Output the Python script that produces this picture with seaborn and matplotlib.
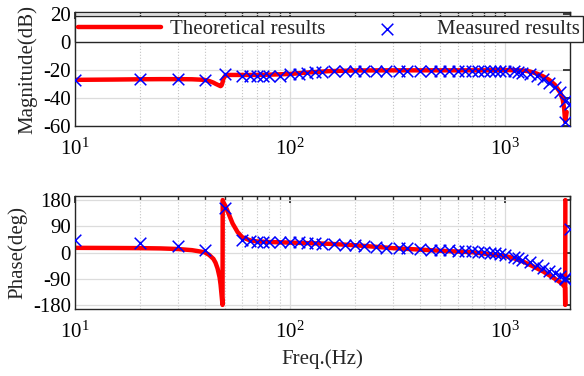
"""
Bode plot: theoretical vs measured frequency response (magnitude and phase).
"""

import matplotlib
matplotlib.use("Agg")
import matplotlib.pyplot as plt
import matplotlib.ticker as mticker
import pandas as pd
import seaborn as sns

# Theoretical magnitude curve
THEO_MAG_FREQ = [10, 15, 20, 25, 30, 35, 40, 42, 44, 45, 46, 47, 47.5, 48, 48.5,
                 49, 50, 52, 55, 60, 70, 80, 100, 120, 150, 200, 300, 500, 800,
                 1000, 1200, 1300, 1400, 1500, 1600, 1700, 1800, 1850, 1880,
                 1900, 1930]
THEO_MAG_DB = [-27.0, -26.8, -26.6, -26.5, -26.5, -26.6, -27.0, -27.8, -29.0,
               -29.8, -30.5, -31.2, -31.5, -31.0, -29.0, -26.0, -24.0, -23.5,
               -23.5, -23.5, -23.5, -23.3, -22.8, -21.8, -20.8, -20.3, -20.2,
               -20.2, -20.2, -20.0, -20.3, -21.0, -22.5, -24.5, -27.0, -30.5,
               -36.0, -41.0, -48.0, -57.0, -50.0]

# Theoretical phase curve
THEO_PH_FREQ = [10, 15, 20, 25, 30, 35, 40, 42, 44, 45, 46, 47, 47.5, 48, 48.5,
                48.6, 49, 50, 52, 54, 57, 60, 65, 70, 80, 100, 150, 200, 300,
                400, 500, 700, 1000, 1100, 1200, 1300, 1500, 1700, 1800, 1850,
                1895, 1900, 1903]
THEO_PH_DEG = [16, 15.5, 15, 14, 12, 8, 1, -8, -22, -35, -55, -85, -110, -145,
               -180, 180, 172, 160, 130, 100, 70, 52, 42, 38, 36, 34, 30, 25,
               15, 10, 6, 1, -12, -20, -30, -42, -65, -90, -102, -110, -120,
               -180, 180]

# Measured points
MEAS_FREQ = [10, 20, 30, 40, 50, 60, 65, 70, 75, 80, 90, 100, 110, 120, 130,
             140, 160, 180, 200, 220, 250, 280, 320, 350, 400, 450, 500, 550,
             600, 650, 700, 750, 800, 850, 900, 950, 1000, 1100, 1150, 1200,
             1300, 1400, 1500, 1600, 1700, 1800, 1890, 1900, 2000]
MEAS_MAG_DB = [-27, -26.5, -26.5, -27, -23, -24.5, -24.5, -24.5, -24.5, -24.5,
               -24, -23, -22.5, -22, -21.5, -21.5, -21, -21, -21, -21, -21,
               -21, -21, -21, -21, -21, -21, -21, -21, -21, -21, -21, -21, -21,
               -21, -21, -21, -21, -21.5, -22, -23, -24.5, -26.5, -29, -32,
               -36, -42, -57, -44]
MEAS_PH_DEG = [43, 33, 22, 8, 152, 43, 38, 35, 37, 35, 37, 35, 36, 33, 32, 30,
               30, 27, 25, 22, 20, 17, 14, 15, 12, 10, 9, 8, 6, 5, 4, 2, 2, 0,
               -2, -4, -8, -15, -20, -25, -33, -43, -53, -63, -72, -80, -88,
               -92, 82]

MAG_TICKS = [-60, -40, -20, 0, 20]
PH_TICKS = [-180, -90, 0, 90, 180]

W, H = 584, 376


def style_axes(ax):
    ax.set_xscale("log")
    ax.set_xlim(10, 2000)
    ax.grid(True, which="major", color="#dcdcdc", linewidth=0.9, linestyle="-")
    ax.grid(True, which="minor", axis="x", color="#c4c4c4", linewidth=0.8,
            linestyle=":")
    ax.set_axisbelow(True)
    ax.xaxis.set_minor_formatter(mticker.NullFormatter())
    ax.tick_params(which="both", direction="in", top=True, right=True,
                   colors="#262626", labelcolor="black", labelsize=15)
    ax.tick_params(which="major", length=5)
    ax.tick_params(which="minor", length=3)
    ax.tick_params(axis="x", pad=9)
    ax.tick_params(axis="y", pad=3)
    for spine in ax.spines.values():
        spine.set_color("#262626")
        spine.set_linewidth(1.0)
    ax.set_xlabel("")


def main():
    sns.set_theme(style="white")
    plt.rcParams["font.family"] = ["Liberation Serif", "DejaVu Serif"]
    plt.rcParams["mathtext.fontset"] = "custom"
    plt.rcParams["mathtext.rm"] = "Liberation Serif"
    plt.rcParams["mathtext.it"] = "Liberation Serif:italic"
    plt.rcParams["axes.unicode_minus"] = False

    theo_mag = pd.DataFrame({"freq": THEO_MAG_FREQ, "val": THEO_MAG_DB})
    theo_ph = pd.DataFrame({"freq": THEO_PH_FREQ, "val": THEO_PH_DEG})
    meas = pd.DataFrame({"freq": MEAS_FREQ, "mag": MEAS_MAG_DB, "ph": MEAS_PH_DEG})

    fig = plt.figure(figsize=(W / 100, H / 100), dpi=100)
    ax1 = fig.add_axes([75 / W, 1 - 126 / H, 495 / W, 114 / H])
    ax2 = fig.add_axes([75 / W, 1 - 309 / H, 495 / W, 113 / H])

    # Magnitude
    sns.lineplot(data=theo_mag, x="freq", y="val", ax=ax1, color="red",
                 linewidth=3.2, sort=False, label="Theoretical results")
    sns.scatterplot(data=meas, x="freq", y="mag", ax=ax1, marker="x",
                    color="blue", s=70, linewidth=1.1, zorder=3,
                    label="Measured results")
    style_axes(ax1)
    ax1.set_ylim(-60, 21.5)
    ax1.set_yticks(MAG_TICKS)
    ax1.set_ylabel("Magnitude(dB)", fontsize=15)
    ax1.yaxis.set_label_coords(-0.077, 0.5)

    leg = ax1.legend(loc="lower left", bbox_to_anchor=(0, 0.735, 1.026, 0.265),
                     mode="expand", ncol=2, borderaxespad=0, fontsize=15,
                     frameon=True, fancybox=False, framealpha=1,
                     edgecolor="#262626", handlelength=4.0, borderpad=0.15,
                     handletextpad=0.4, columnspacing=1.0)
    leg.get_frame().set_linewidth(1.0)

    # Phase
    sns.lineplot(data=theo_ph, x="freq", y="val", ax=ax2, color="red",
                 linewidth=3.2, sort=False, legend=False)
    sns.scatterplot(data=meas, x="freq", y="ph", ax=ax2, marker="x",
                    color="blue", s=70, linewidth=1.1, zorder=3, legend=False)
    style_axes(ax2)
    ax2.set_ylim(-194, 194)
    ax2.set_yticks(PH_TICKS)
    ax2.set_ylabel("Phase(deg)", fontsize=15)
    ax2.yaxis.set_label_coords(-0.097, 0.5)
    ax2.set_xlabel("Freq.(Hz)", fontsize=15)
    ax2.xaxis.set_label_coords(0.5, -0.355)

    fig.savefig("out.png", dpi=100)
    plt.close(fig)


if __name__ == "__main__":
    main()
